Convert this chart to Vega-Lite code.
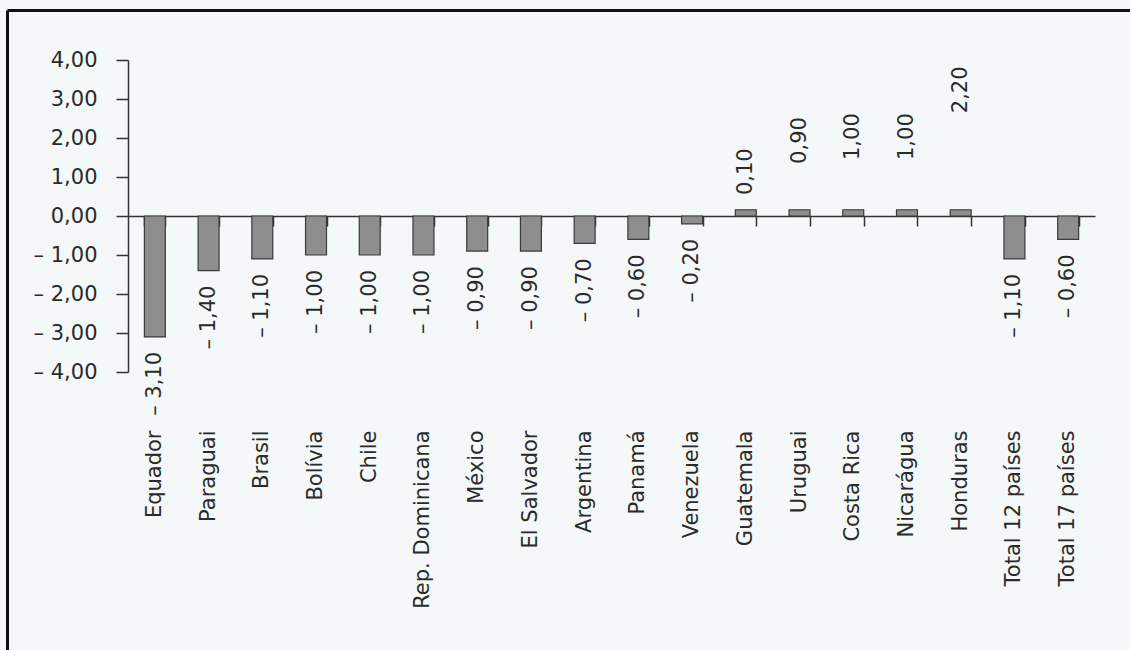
{
  "$schema": "https://vega.github.io/schema/vega-lite/v6.json",
  "autosize": {"type": "none"},
  "padding": {"left": 7, "top": 10, "right": 0, "bottom": 0},
  "width": 1123,
  "height": 640,
  "background": "#f4f8f9",
  "config": {
    "locale": {"number": {"decimal": ",", "thousands": ".", "grouping": [3], "currency": ["", ""], "minus": "– "}},
    "view": {"stroke": null, "fill": null},
    "font": "DejaVu Sans",
    "axis": {"labelFont": "DejaVu Sans", "labelFontSize": 21, "labelColor": "#2a2a2a", "grid": false, "title": null, "domainColor": "#333333", "tickColor": "#333333", "domainWidth": 1.5, "tickWidth": 1.5}
  },
  "data": {"values": [
    {"pais": "Equador", "valor": -3.1, "barra": -3.1},
    {"pais": "Paraguai", "valor": -1.4, "barra": -1.4},
    {"pais": "Brasil", "valor": -1.1, "barra": -1.1},
    {"pais": "Bolívia", "valor": -1.0, "barra": -1.0},
    {"pais": "Chile", "valor": -1.0, "barra": -1.0},
    {"pais": "Rep. Dominicana", "valor": -1.0, "barra": -1.0},
    {"pais": "México", "valor": -0.9, "barra": -0.9},
    {"pais": "El Salvador", "valor": -0.9, "barra": -0.9},
    {"pais": "Argentina", "valor": -0.7, "barra": -0.7},
    {"pais": "Panamá", "valor": -0.6, "barra": -0.6},
    {"pais": "Venezuela", "valor": -0.2, "barra": -0.2},
    {"pais": "Guatemala", "valor": 0.1, "barra": 0.16},
    {"pais": "Uruguai", "valor": 0.9, "barra": 0.16},
    {"pais": "Costa Rica", "valor": 1.0, "barra": 0.16},
    {"pais": "Nicarágua", "valor": 1.0, "barra": 0.16},
    {"pais": "Honduras", "valor": 2.2, "barra": 0.16},
    {"pais": "Total 12 países", "valor": -1.1, "barra": -1.1},
    {"pais": "Total 17 países", "valor": -0.6, "barra": -0.6}
  ]},
  "resolve": {"scale": {"x": "independent", "y": "independent"}, "axis": {"x": "independent", "y": "independent"}},
  "layer": [
    {
      "resolve": {"axis": {"x": "independent", "y": "independent"}},
      "layer": [
        {
          "mark": {"type": "bar", "fill": "#8e8e8e", "stroke": "#3a3a3a", "strokeWidth": 1.2},
          "encoding": {
            "x": {"field": "pais", "type": "nominal", "sort": null,
              "scale": {"range": [121, 1088], "paddingInner": 0.61, "paddingOuter": 0.305},
              "axis": {"orient": "bottom", "offset": -434, "labels": false, "domain": true, "ticks": true, "tickBand": "extent", "tickSize": 10}},
            "y": {"field": "barra", "type": "quantitative",
              "scale": {"domain": [-4, 4], "range": [362, 50], "nice": false, "zero": false},
              "axis": {"orient": "left", "offset": -121, "values": [-4, -3, -2, -1, 0, 1, 2, 3, 4], "format": ".2f", "tickSize": 12, "labelPadding": 19}}
          }
        },
        {
          "transform": [{"filter": "datum.valor < 0"}],
          "mark": {"type": "text", "angle": 270, "align": "right", "baseline": "middle", "dx": -15, "fontSize": 21, "font": "DejaVu Sans", "fill": "#2a2a2a"},
          "encoding": {
            "x": {"field": "pais", "type": "nominal", "sort": null,
              "axis": {"orient": "top", "offset": -420, "labelAngle": -90, "labelAlign": "right", "labelBaseline": "middle", "labelPadding": 0, "ticks": false, "tickSize": 0, "domain": false}},
            "y": {"field": "valor", "type": "quantitative", "axis": null},
            "text": {"field": "valor", "type": "quantitative", "format": ".2f"}
          }
        },
        {
          "transform": [{"filter": "datum.valor >= 0"}],
          "mark": {"type": "text", "angle": 270, "align": "left", "baseline": "middle", "dx": 17, "fontSize": 21, "font": "DejaVu Sans", "fill": "#2a2a2a"},
          "encoding": {
            "x": {"field": "pais", "type": "nominal", "sort": null, "axis": null},
            "y": {"field": "valor", "type": "quantitative", "axis": null},
            "text": {"field": "valor", "type": "quantitative", "format": ".2f"}
          }
        }
      ]
    },
    {
      "mark": {"type": "point", "opacity": 0},
      "encoding": {
        "x": {"field": "valor", "type": "quantitative",
          "axis": {"orient": "top", "offset": 0, "labels": false, "ticks": false, "domain": true, "domainColor": "#111111", "domainWidth": 3}},
        "y": {"field": "valor", "type": "quantitative",
          "axis": {"orient": "left", "offset": 0, "labels": false, "ticks": false, "domain": true, "domainColor": "#111111", "domainWidth": 3}}
      }
    }
  ]
}
